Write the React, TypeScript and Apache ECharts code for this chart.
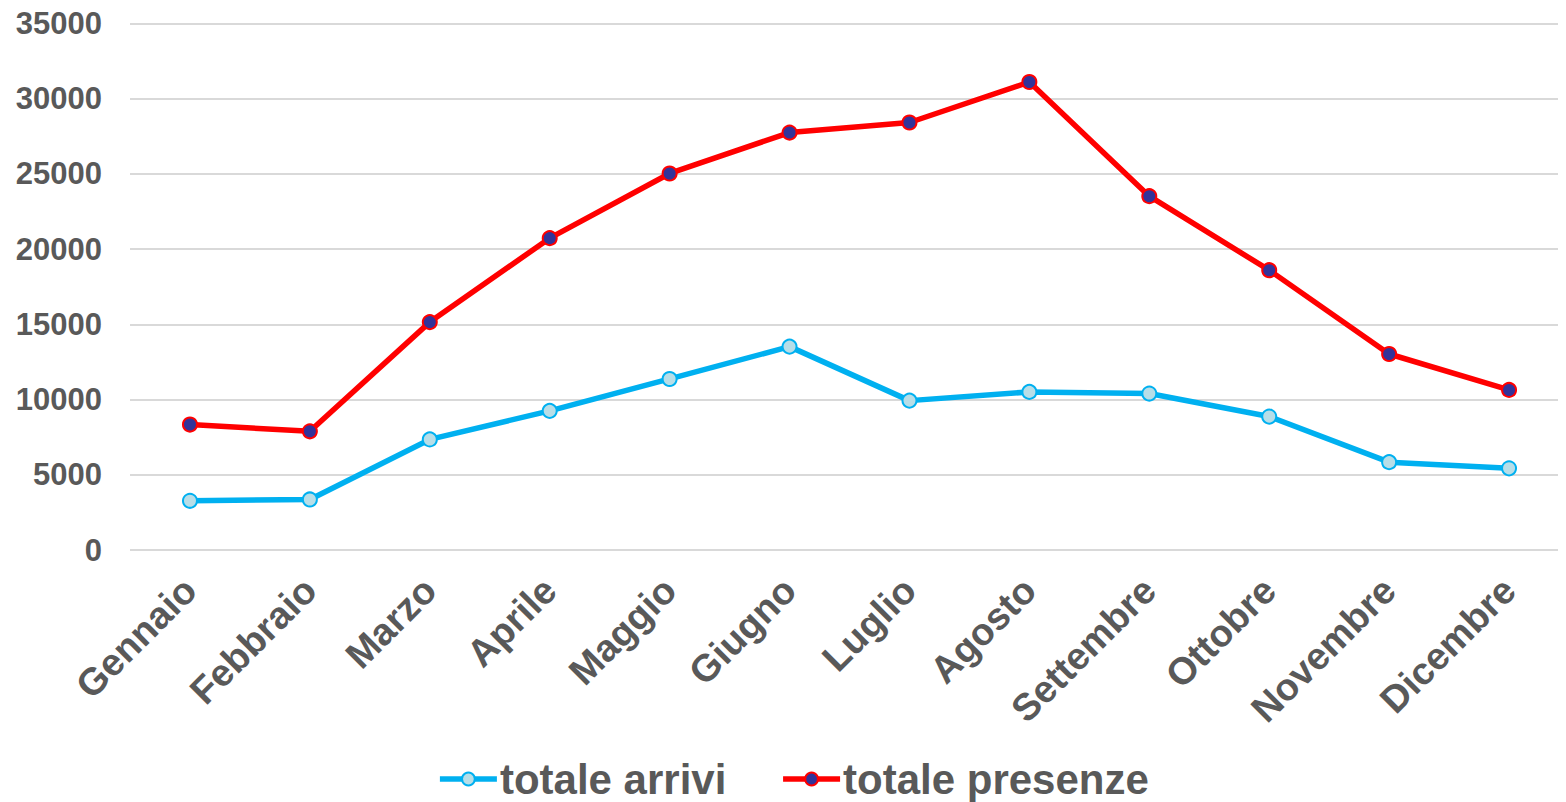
import React, { useEffect, useRef } from "react";
import * as echarts from "echarts";

const months = ["Gennaio", "Febbraio", "Marzo", "Aprile", "Maggio", "Giugno", "Luglio", "Agosto", "Settembre", "Ottobre", "Novembre", "Dicembre"];
const totaleArrivi = [3270, 3360, 7350, 9250, 11370, 13520, 9930, 10510, 10400, 8870, 5840, 5430];
const totalePresenze = [8340, 7890, 15150, 20730, 25030, 27750, 28420, 31110, 23520, 18600, 13030, 10640];
const seriesNames = ["totale arrivi", "totale presenze"];

const FONT = '"Liberation Sans", Arial, sans-serif';
const TXT = "#595959";

export default function App() {
  const ref = useRef<HTMLDivElement>(null);
  useEffect(() => {
    if (!ref.current) return;
    const chart = echarts.init(ref.current, undefined, { renderer: "svg" });
    chart.setOption({
      animation: false,
      backgroundColor: "#ffffff",
      grid: { left: 122, right: 9, top: 15, bottom: 252, containLabel: false },
      legend: {
        data: seriesNames,
        left: "center",
        top: 749,
        padding: 0,
        itemWidth: 57,
        itemHeight: 16,
        itemGap: 54,
        lineStyle: { width: 5.5 },
        textStyle: { fontFamily: FONT, fontWeight: "bold", fontSize: 42, lineHeight: 44, color: TXT, padding: [0, 0, 0, -2] },
      },
      xAxis: {
        type: "category",
        data: months,
        boundaryGap: true,
        axisLine: { show: false },
        axisTick: { show: false },
        axisLabel: {
          rotate: 45,
          margin: 34,
          interval: 0,
          fontFamily: FONT,
          fontWeight: "bold",
          fontSize: 38,
          color: TXT,
        },
      },
      yAxis: {
        type: "value",
        min: 0,
        max: 35000,
        interval: 5000,
        axisLine: { show: false },
        axisTick: { show: false },
        splitLine: { lineStyle: { color: "#d9d9d9", width: 2 } },
        axisLabel: {
          margin: 28,
          fontFamily: FONT,
          fontWeight: "bold",
          fontSize: 31,
          lineHeight: 28,
          color: TXT,
          formatter: (v: number) => String(v),
        },
      },
      series: [
        {
          name: seriesNames[0],
          type: "line",
          data: totaleArrivi,
          symbol: "circle",
          symbolSize: 14,
          lineStyle: { color: "#00b0f0", width: 5.5 },
          itemStyle: { color: "#b7dee8", borderColor: "#00b0f0", borderWidth: 2 },
        },
        {
          name: seriesNames[1],
          type: "line",
          data: totalePresenze,
          symbol: "circle",
          symbolSize: 14,
          lineStyle: { color: "#ff0000", width: 5.5 },
          itemStyle: { color: "#333399", borderColor: "#ff0000", borderWidth: 2 },
        },
      ],
    });
    return () => chart.dispose();
  }, []);
  return (
    <div style={{ width: 1550, height: 794, overflow: "hidden" }}>
      <div ref={ref} style={{ width: 1570, height: 794 }} />
    </div>
  );
}
